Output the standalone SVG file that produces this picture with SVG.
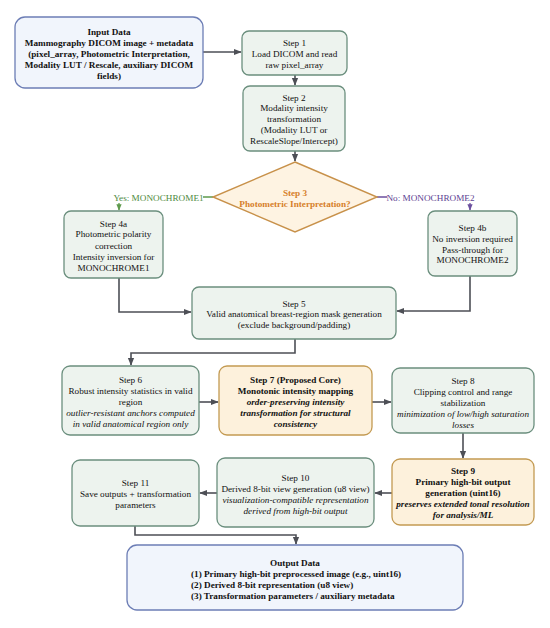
<svg xmlns="http://www.w3.org/2000/svg" width="550" height="628" viewBox="0 0 550 628">
<style>
text{font-size:9.2px;text-anchor:middle;fill:#111}
.b{font-weight:bold}
.i{font-style:italic}
.bi{font-weight:bold;font-style:italic}
.g{fill:#edf3ee;stroke:#6b8f7e;stroke-width:1.3}
.y{fill:#fdf1dc;stroke:#c39a52;stroke-width:1.3}
.io{fill:#f1f5fc;stroke:#6c7db5;stroke-width:1.3}
.e{fill:none;stroke:#4d4f56;stroke-width:1.6}
.ok{fill:none;stroke:#5e9a4c;stroke-width:1.3}
.no{fill:none;stroke:#6b4f9e;stroke-width:1.3}
</style>
<defs>
<marker id="a" viewBox="0 0 10 10" refX="9" refY="5" markerWidth="5" markerHeight="5" orient="auto"><path d="M0,1 L10,5 L0,9 z" fill="#4d4f56"/></marker>
<marker id="ag" viewBox="0 0 10 10" refX="9" refY="5" markerWidth="5" markerHeight="5" orient="auto"><path d="M0,1 L10,5 L0,9 z" fill="#5e9a4c"/></marker>
<marker id="ap" viewBox="0 0 10 10" refX="9" refY="5" markerWidth="5" markerHeight="5" orient="auto"><path d="M0,1 L10,5 L0,9 z" fill="#6b4f9e"/></marker>
</defs>
<rect width="550" height="628" fill="#fff"/>
<g id="connectors">
<path class="e" d="M203,52 H241" marker-end="url(#a)"/>
<path class="e" d="M295,75 V85" marker-end="url(#a)"/>
<path class="e" d="M295,151 V161" marker-end="url(#a)"/>
<path class="ok" d="M213,197 H119 V210" marker-end="url(#ag)"/>
<path class="no" d="M377,197 H470 V210" marker-end="url(#ap)"/>
<path class="e" d="M119,278 V312 H191" marker-end="url(#a)"/>
<path class="e" d="M470,276 V311 H397" marker-end="url(#a)"/>
<path class="e" d="M295,339 V353 H131 V365" marker-end="url(#a)"/>
<path class="e" d="M199,402 H218" marker-end="url(#a)"/>
<path class="e" d="M372,402 H391" marker-end="url(#a)"/>
<path class="e" d="M463,433 V458" marker-end="url(#a)"/>
<path class="e" d="M392,493 H375" marker-end="url(#a)"/>
<path class="e" d="M217,493 H200" marker-end="url(#a)"/>
<path class="e" d="M135,526 V535 H296 V544" marker-end="url(#a)"/>
<rect x="114" y="190" width="89" height="13" fill="#fff"/>
<text font-family="Liberation Serif, serif" x="158.5" y="200.5" style="fill:#4e8a3e">Yes: MONOCHROME1</text>
<rect x="387" y="190" width="87" height="13" fill="#fff"/>
<text font-family="Liberation Serif, serif" x="430.5" y="200.5" style="fill:#5d3f93">No: MONOCHROME2</text>
</g>
<g id="input">
<rect class="io" x="15" y="17" width="188" height="71" rx="10"/>
<text font-family="Liberation Serif, serif" class="b" x="109" y="35">Input Data</text>
<text font-family="Liberation Serif, serif" class="b" x="109" y="46">Mammography DICOM image + metadata</text>
<text font-family="Liberation Serif, serif" class="b" x="109" y="57">(pixel_array, Photometric Interpretation,</text>
<text font-family="Liberation Serif, serif" class="b" x="109" y="68">Modality LUT / Rescale, auxiliary DICOM</text>
<text font-family="Liberation Serif, serif" class="b" x="109" y="79">fields)</text>
</g>
<g id="step1">
<rect class="g" x="242" y="31" width="105" height="44" rx="7"/>
<text font-family="Liberation Serif, serif" x="294.5" y="45.5">Step 1</text>
<text font-family="Liberation Serif, serif" x="294.5" y="56.5">Load DICOM and read</text>
<text font-family="Liberation Serif, serif" x="294.5" y="67.5">raw pixel_array</text>
</g>
<g id="step2">
<rect class="g" x="243" y="86" width="102" height="65" rx="7"/>
<text font-family="Liberation Serif, serif" x="294" y="100.5">Step 2</text>
<text font-family="Liberation Serif, serif" x="294" y="111">Modality intensity</text>
<text font-family="Liberation Serif, serif" x="294" y="122">transformation</text>
<text font-family="Liberation Serif, serif" x="294" y="133">(Modality LUT or</text>
<text font-family="Liberation Serif, serif" x="294" y="144">RescaleSlope/Intercept)</text>
</g>
<g id="step3">
<path d="M295,162 L377,197 L295,232 L213,197 Z" fill="#fef3e2" stroke="#c8914a" stroke-width="1.4"/>
<text font-family="Liberation Serif, serif" class="b" x="295" y="196" style="fill:#d67f2a">Step 3</text>
<text font-family="Liberation Serif, serif" class="b" x="295" y="207" style="fill:#d67f2a">Photometric Interpretation?</text>
</g>
<g id="step4a">
<rect class="g" x="64" y="211" width="99" height="67" rx="7"/>
<text font-family="Liberation Serif, serif" x="113.5" y="226.5">Step 4a</text>
<text font-family="Liberation Serif, serif" x="113.5" y="237">Photometric polarity</text>
<text font-family="Liberation Serif, serif" x="113.5" y="248.5">correction</text>
<text font-family="Liberation Serif, serif" x="113.5" y="259.5">Intensity inversion for</text>
<text font-family="Liberation Serif, serif" x="113.5" y="270.5">MONOCHROME1</text>
</g>
<g id="step4b">
<rect class="g" x="428" y="211" width="89" height="65" rx="7"/>
<text font-family="Liberation Serif, serif" x="472.5" y="230.5">Step 4b</text>
<text font-family="Liberation Serif, serif" x="472.5" y="241.5">No inversion required</text>
<text font-family="Liberation Serif, serif" x="472.5" y="252.5">Pass-through for</text>
<text font-family="Liberation Serif, serif" x="472.5" y="263">MONOCHROME2</text>
</g>
<g id="step5">
<rect class="g" x="192" y="287" width="204" height="52" rx="7"/>
<text font-family="Liberation Serif, serif" x="294" y="306.5">Step 5</text>
<text font-family="Liberation Serif, serif" x="294" y="317">Valid anatomical breast-region mask generation</text>
<text font-family="Liberation Serif, serif" x="294" y="327.5">(exclude background/padding)</text>
</g>
<g id="step6">
<rect class="g" x="62" y="366" width="137" height="69" rx="8"/>
<text font-family="Liberation Serif, serif" x="130.5" y="382.5">Step 6</text>
<text font-family="Liberation Serif, serif" x="130.5" y="393.5">Robust intensity statistics in valid</text>
<text font-family="Liberation Serif, serif" x="130.5" y="404.5">region</text>
<text font-family="Liberation Serif, serif" class="i" x="130.5" y="415.5">outlier-resistant anchors computed</text>
<text font-family="Liberation Serif, serif" class="i" x="130.5" y="426.5">in valid anatomical region only</text>
</g>
<g id="step7">
<rect class="y" x="219" y="366" width="153" height="69" rx="8"/>
<text font-family="Liberation Serif, serif" class="b" x="295.5" y="382.5">Step 7 (Proposed Core)</text>
<text font-family="Liberation Serif, serif" class="b" x="295.5" y="393.5">Monotonic intensity mapping</text>
<text font-family="Liberation Serif, serif" class="bi" x="295.5" y="404.5">order-preserving intensity</text>
<text font-family="Liberation Serif, serif" class="bi" x="295.5" y="415.5">transformation for structural</text>
<text font-family="Liberation Serif, serif" class="bi" x="295.5" y="426.5">consistency</text>
</g>
<g id="step8">
<rect class="g" x="392" y="368" width="142" height="65" rx="8"/>
<text font-family="Liberation Serif, serif" x="463" y="383.5">Step 8</text>
<text font-family="Liberation Serif, serif" x="463" y="394.5">Clipping control and range</text>
<text font-family="Liberation Serif, serif" x="463" y="405.5">stabilization</text>
<text font-family="Liberation Serif, serif" class="i" x="463" y="416.5">minimization of low/high saturation</text>
<text font-family="Liberation Serif, serif" class="i" x="463" y="427.5">losses</text>
</g>
<g id="step9">
<rect class="y" x="392" y="459" width="142" height="66" rx="8"/>
<text font-family="Liberation Serif, serif" class="b" x="463" y="473.5">Step 9</text>
<text font-family="Liberation Serif, serif" class="b" x="463" y="484.5">Primary high-bit output</text>
<text font-family="Liberation Serif, serif" class="b" x="463" y="495.5">generation (uint16)</text>
<text font-family="Liberation Serif, serif" class="bi" x="463" y="506.5">preserves extended tonal resolution</text>
<text font-family="Liberation Serif, serif" class="bi" x="463" y="517.5">for analysis/ML</text>
</g>
<g id="step10">
<rect class="g" x="217" y="458" width="157" height="69" rx="8"/>
<text font-family="Liberation Serif, serif" x="295.5" y="480.5">Step 10</text>
<text font-family="Liberation Serif, serif" x="295.5" y="491.5">Derived 8-bit view generation (u8 view)</text>
<text font-family="Liberation Serif, serif" class="i" x="295.5" y="502.5">visualization-compatible representation</text>
<text font-family="Liberation Serif, serif" class="i" x="295.5" y="513.5">derived from high-bit output</text>
</g>
<g id="step11">
<rect class="g" x="72" y="460" width="127" height="66" rx="8"/>
<text font-family="Liberation Serif, serif" x="135.5" y="485.5">Step 11</text>
<text font-family="Liberation Serif, serif" x="135.5" y="496.5">Save outputs + transformation</text>
<text font-family="Liberation Serif, serif" x="135.5" y="507.5">parameters</text>
</g>
<g id="output">
<rect class="io" x="127" y="545" width="336" height="65" rx="10"/>
<text font-family="Liberation Serif, serif" class="b" x="295" y="565.5">Output Data</text>
<text font-family="Liberation Serif, serif" class="b" x="191" y="576.5" style="text-anchor:start">(1) Primary high-bit preprocessed image (e.g., uint16)</text>
<text font-family="Liberation Serif, serif" class="b" x="191" y="587.5" style="text-anchor:start">(2) Derived 8-bit representation (u8 view)</text>
<text font-family="Liberation Serif, serif" class="b" x="191" y="598.5" style="text-anchor:start">(3) Transformation parameters / auxiliary metadata</text>
</g>
</svg>
